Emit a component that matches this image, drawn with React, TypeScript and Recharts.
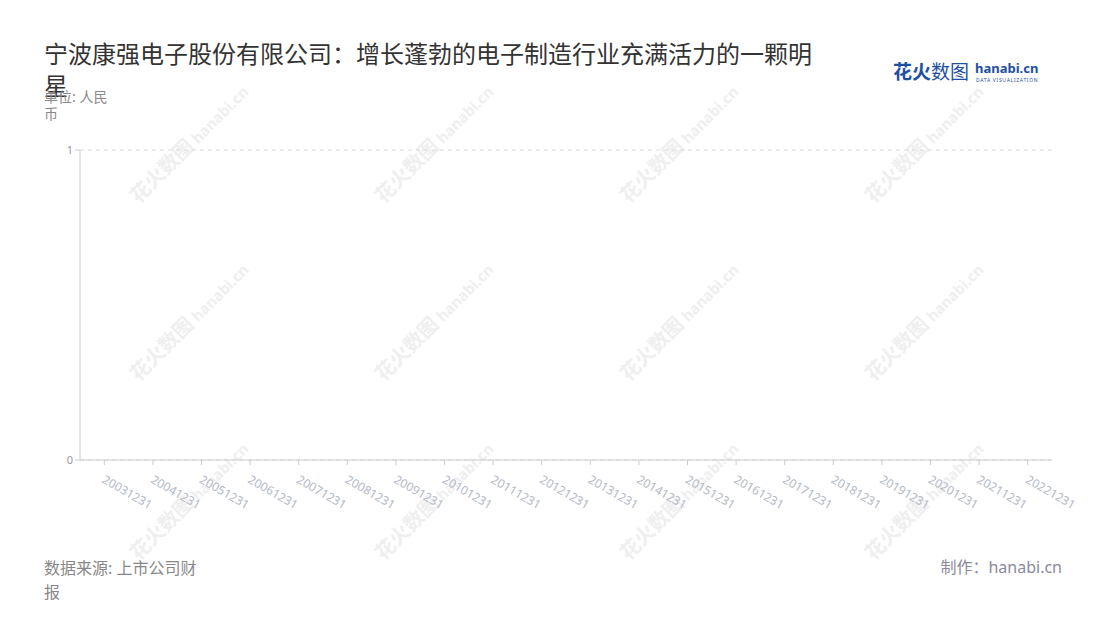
import { Bar, BarChart, CartesianGrid, XAxis, YAxis } from 'recharts'

const categories = [
  '20031231', '20041231', '20051231', '20061231', '20071231',
  '20081231', '20091231', '20101231', '20111231', '20121231',
  '20131231', '20141231', '20151231', '20161231', '20171231',
  '20181231', '20191231', '20201231', '20211231', '20221231',
]
// the reference chart shows no values at all
const revenue: (number | null)[] = categories.map(() => null)
const yTicks = [0, 1]

const data = categories.map((date, i) => ({ date, revenue: revenue[i] }))

const FONT = '"Noto Sans", "Noto Sans CJK SC", sans-serif'

const watermarkX = [188, 433, 678, 923]
const watermarkY = [140, 318, 497]

function XTick({ x, y, payload }: { x?: number; y?: number; payload?: { value: string } }) {
  return (
    <g transform={`translate(${(x ?? 0) - 3},${(y ?? 0) + 15}) rotate(30)`}>
      <text x={0} y={0} fill="#b3b9c8" fontSize={12} fontFamily={FONT} textAnchor="start">
        {payload?.value}
      </text>
    </g>
  )
}

export default function App() {
  return (
    <div
      style={{
        position: 'absolute',
        left: 0,
        top: 0,
        width: 1100,
        height: 620,
        background: '#fff',
        fontFamily: FONT,
        overflow: 'hidden',
      }}
    >
      {watermarkY.map((wy) =>
        watermarkX.map((wx) => (
          <div
            key={`${wx}-${wy}`}
            style={{
              position: 'absolute',
              left: wx - 80,
              top: wy - 12,
              width: 160,
              textAlign: 'center',
              transform: 'rotate(-45deg)',
              color: '#efefef',
              whiteSpace: 'nowrap',
              fontWeight: 700,
            }}
          >
            <span style={{ fontSize: 20 }}>花火数图</span>{' '}
            <span style={{ fontSize: 15 }}>hanabi.cn</span>
          </div>
        )),
      )}

      <div
        style={{
          position: 'absolute',
          left: 44,
          top: 38,
          width: 780,
          fontSize: 24,
          lineHeight: '32px',
          color: '#333',
        }}
      >
        宁波康强电子股份有限公司：增长蓬勃的电子制造行业充满活力的一颗明星
      </div>

      <div
        style={{
          position: 'absolute',
          left: 44,
          top: 88,
          width: 72,
          fontSize: 14,
          lineHeight: '17px',
          color: '#8a8a8a',
        }}
      >
        单位: 人民币
      </div>

      <div style={{ position: 'absolute', left: 893, top: 61, height: 24, whiteSpace: 'nowrap' }}>
        <span
          style={{
            position: 'absolute',
            left: 0,
            top: 0,
            fontSize: 19,
            lineHeight: '22px',
            fontWeight: 700,
            color: '#1d4fa3',
          }}
        >
          花火<span style={{ fontWeight: 400 }}>数图</span>
        </span>
        <span
          style={{
            position: 'absolute',
            left: 82,
            top: 0,
            fontSize: 13,
            lineHeight: '15px',
            fontWeight: 700,
            color: '#1d4fa3',
          }}
        >
          hanabi.cn
        </span>
        <span
          style={{
            position: 'absolute',
            left: 83,
            top: 16,
            fontSize: 5,
            lineHeight: '6px',
            letterSpacing: 0.7,
            color: '#1d4fa3',
          }}
        >
          DATA VISUALIZATION
        </span>
      </div>

      <BarChart
        width={1100}
        height={620}
        data={data}
        margin={{ top: 150, right: 48, bottom: 100, left: 50 }}
        style={{ position: 'absolute', left: 0, top: 0 }}
      >
        <CartesianGrid vertical={false} stroke="#dddddd" strokeDasharray="4 4" />
        <XAxis
          dataKey="date"
          interval={0}
          height={60}
          stroke="#cccccc"
          tickSize={5}
          tick={<XTick />}
        />
        <YAxis
          type="number"
          width={30}
          domain={[0, 1]}
          allowDataOverflow
          ticks={yTicks}
          stroke="#cccccc"
          tickSize={5}
          tick={{ fill: '#999999', fontSize: 11, fontFamily: FONT }}
        />
        <Bar dataKey="revenue" fill="#3b6fd8" isAnimationActive={false} />
      </BarChart>

      <div
        style={{
          position: 'absolute',
          left: 44,
          top: 556,
          width: 165,
          fontSize: 16,
          lineHeight: '24px',
          color: '#888',
        }}
      >
        数据来源: 上市公司财报
      </div>

      <div
        style={{
          position: 'absolute',
          right: 38,
          top: 556,
          fontSize: 16,
          lineHeight: '22px',
          color: '#8a8a9a',
        }}
      >
        制作：hanabi.cn
      </div>
    </div>
  )
}
